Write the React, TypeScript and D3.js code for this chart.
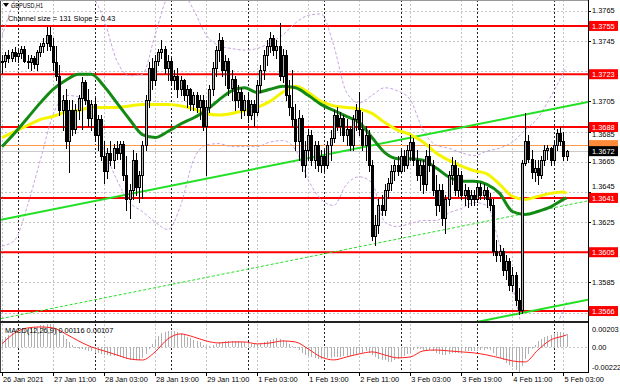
import React from "react";
import * as d3 from "d3";

// ---------- DATA (GBPUSD H1) ----------
const opens = [
  1.3731, 1.3732, 1.3736, 1.3734, 1.3738, 1.3735, 1.3737, 1.3740, 1.3732, 1.3731,
  1.3734, 1.3730, 1.3738, 1.3742, 1.3744, 1.3749, 1.3742, 1.3731, 1.3722, 1.3699,
  1.3706, 1.3679, 1.3699, 1.3687, 1.3699, 1.3707, 1.3718, 1.3706, 1.3694, 1.3703,
  1.3683, 1.3693, 1.3669, 1.3659, 1.3671, 1.3666, 1.3674, 1.3671, 1.3677, 1.3656,
  1.3640, 1.3646, 1.3666, 1.3648, 1.3656, 1.3676, 1.3706, 1.3727, 1.3719, 1.3732,
  1.3738, 1.3740, 1.3727, 1.3732, 1.3719, 1.3722, 1.3713, 1.3719, 1.3709, 1.3713,
  1.3703, 1.3709, 1.3701, 1.3706, 1.3689, 1.3701, 1.3713, 1.3727, 1.3739, 1.3746,
  1.3726, 1.3732, 1.3714, 1.3720, 1.3706, 1.3711, 1.3699, 1.3706, 1.3696, 1.3703,
  1.3698, 1.3716, 1.3726, 1.3736, 1.3742, 1.3747, 1.3739, 1.3742, 1.3722, 1.3736,
  1.3709, 1.3701, 1.3693, 1.3679, 1.3694, 1.3663, 1.3673, 1.3683, 1.3666, 1.3676,
  1.3663, 1.3669, 1.3663, 1.3676, 1.3681, 1.3696, 1.3689, 1.3694, 1.3683, 1.3687,
  1.3676, 1.3693, 1.3699, 1.3687, 1.3676, 1.3683, 1.3663, 1.3616, 1.3623, 1.3636,
  1.3633, 1.3646, 1.3651, 1.3659, 1.3663, 1.3659, 1.3669, 1.3663, 1.3673, 1.3678,
  1.3666, 1.3656, 1.3663, 1.3650, 1.3669, 1.3663, 1.3646, 1.3636, 1.3646, 1.3628,
  1.3640, 1.3656, 1.3663, 1.3646, 1.3656, 1.3643, 1.3646, 1.3640, 1.3643, 1.3640,
  1.3648, 1.3643, 1.3646, 1.3640, 1.3636, 1.3606, 1.3603, 1.3606, 1.3593, 1.3599,
  1.3583, 1.3590, 1.3573, 1.3567, 1.3664, 1.3679, 1.3667, 1.3658, 1.3661, 1.3656,
  1.3666, 1.3673, 1.3674, 1.3666, 1.3676, 1.3684, 1.3679, 1.3669,
];
const highs = [
  1.3736, 1.3738, 1.3739, 1.3740, 1.3741, 1.3739, 1.3742, 1.3742, 1.3736, 1.3736,
  1.3735, 1.3739, 1.3744, 1.3747, 1.3754, 1.3754, 1.3747, 1.3742, 1.3729, 1.3709,
  1.3713, 1.3706, 1.3706, 1.3703, 1.3709, 1.3721, 1.3719, 1.3713, 1.3706, 1.3707,
  1.3696, 1.3696, 1.3679, 1.3674, 1.3679, 1.3677, 1.3679, 1.3679, 1.3679, 1.3669,
  1.3650, 1.3673, 1.3671, 1.3659, 1.3679, 1.3709, 1.3731, 1.3734, 1.3736, 1.3740,
  1.3746, 1.3742, 1.3736, 1.3734, 1.3726, 1.3727, 1.3722, 1.3720, 1.3716, 1.3714,
  1.3711, 1.3711, 1.3709, 1.3709, 1.3706, 1.3716, 1.3731, 1.3742, 1.3750, 1.3748,
  1.3736, 1.3734, 1.3726, 1.3722, 1.3716, 1.3714, 1.3709, 1.3711, 1.3706, 1.3706,
  1.3719, 1.3729, 1.3739, 1.3746, 1.3751, 1.3749, 1.3746, 1.3757, 1.3740, 1.3739,
  1.3719, 1.3726, 1.3703, 1.3699, 1.3696, 1.3679, 1.3687, 1.3686, 1.3679, 1.3679,
  1.3673, 1.3673, 1.3679, 1.3686, 1.3699, 1.3701, 1.3698, 1.3696, 1.3693, 1.3689,
  1.3696, 1.3703, 1.3711, 1.3698, 1.3689, 1.3686, 1.3666, 1.3630, 1.3640, 1.3643,
  1.3650, 1.3654, 1.3663, 1.3666, 1.3669, 1.3673, 1.3673, 1.3676, 1.3683, 1.3681,
  1.3673, 1.3666, 1.3666, 1.3673, 1.3677, 1.3666, 1.3656, 1.3650, 1.3650, 1.3643,
  1.3659, 1.3668, 1.3666, 1.3661, 1.3659, 1.3650, 1.3648, 1.3646, 1.3646, 1.3651,
  1.3651, 1.3650, 1.3648, 1.3644, 1.3640, 1.3613, 1.3610, 1.3608, 1.3603, 1.3601,
  1.3595, 1.3592, 1.3581, 1.3666, 1.3697, 1.3683, 1.3673, 1.3666, 1.3666, 1.3669,
  1.3676, 1.3676, 1.3675, 1.3679, 1.3687, 1.3688, 1.3685, 1.3673,
];
const lows = [
  1.3724, 1.3728, 1.3731, 1.3732, 1.3732, 1.3731, 1.3734, 1.3731, 1.3727, 1.3726,
  1.3727, 1.3726, 1.3735, 1.3738, 1.3739, 1.3739, 1.3726, 1.3719, 1.3696, 1.3686,
  1.3674, 1.3658, 1.3683, 1.3684, 1.3693, 1.3687, 1.3703, 1.3689, 1.3686, 1.3679,
  1.3673, 1.3666, 1.3651, 1.3654, 1.3663, 1.3661, 1.3667, 1.3667, 1.3653, 1.3633,
  1.3628, 1.3640, 1.3643, 1.3638, 1.3641, 1.3673, 1.3701, 1.3713, 1.3716, 1.3729,
  1.3734, 1.3724, 1.3719, 1.3716, 1.3713, 1.3708, 1.3709, 1.3706, 1.3701, 1.3699,
  1.3699, 1.3698, 1.3693, 1.3686, 1.3656, 1.3698, 1.3709, 1.3722, 1.3732, 1.3722,
  1.3716, 1.3709, 1.3706, 1.3699, 1.3701, 1.3694, 1.3696, 1.3691, 1.3693, 1.3689,
  1.3696, 1.3711, 1.3720, 1.3729, 1.3738, 1.3736, 1.3734, 1.3719, 1.3718, 1.3706,
  1.3696, 1.3689, 1.3673, 1.3666, 1.3659, 1.3655, 1.3666, 1.3663, 1.3661, 1.3659,
  1.3658, 1.3659, 1.3661, 1.3666, 1.3678, 1.3686, 1.3683, 1.3679, 1.3676, 1.3673,
  1.3673, 1.3686, 1.3683, 1.3673, 1.3666, 1.3659, 1.3613, 1.3610, 1.3618, 1.3630,
  1.3630, 1.3641, 1.3646, 1.3653, 1.3656, 1.3658, 1.3659, 1.3661, 1.3666, 1.3663,
  1.3653, 1.3646, 1.3644, 1.3646, 1.3659, 1.3643, 1.3630, 1.3632, 1.3623, 1.3618,
  1.3636, 1.3650, 1.3643, 1.3642, 1.3640, 1.3636, 1.3635, 1.3636, 1.3636, 1.3638,
  1.3640, 1.3640, 1.3635, 1.3633, 1.3603, 1.3599, 1.3599, 1.3590, 1.3587, 1.3580,
  1.3579, 1.3570, 1.3564, 1.3565, 1.3663, 1.3665, 1.3654, 1.3652, 1.3650, 1.3654,
  1.3663, 1.3667, 1.3663, 1.3664, 1.3673, 1.3676, 1.3666, 1.3666,
];
const closes = [
  1.3732, 1.3736, 1.3734, 1.3738, 1.3735, 1.3737, 1.3740, 1.3732, 1.3731, 1.3734,
  1.3730, 1.3738, 1.3742, 1.3744, 1.3749, 1.3742, 1.3731, 1.3722, 1.3699, 1.3706,
  1.3679, 1.3699, 1.3687, 1.3699, 1.3707, 1.3718, 1.3706, 1.3694, 1.3703, 1.3683,
  1.3693, 1.3669, 1.3659, 1.3671, 1.3666, 1.3674, 1.3671, 1.3677, 1.3656, 1.3640,
  1.3646, 1.3666, 1.3648, 1.3656, 1.3676, 1.3706, 1.3727, 1.3719, 1.3732, 1.3738,
  1.3740, 1.3727, 1.3732, 1.3719, 1.3722, 1.3713, 1.3719, 1.3709, 1.3713, 1.3703,
  1.3709, 1.3701, 1.3706, 1.3689, 1.3701, 1.3713, 1.3727, 1.3739, 1.3746, 1.3726,
  1.3732, 1.3714, 1.3720, 1.3706, 1.3711, 1.3699, 1.3706, 1.3696, 1.3703, 1.3698,
  1.3716, 1.3726, 1.3736, 1.3742, 1.3747, 1.3739, 1.3742, 1.3722, 1.3736, 1.3709,
  1.3701, 1.3693, 1.3679, 1.3694, 1.3663, 1.3673, 1.3683, 1.3666, 1.3676, 1.3663,
  1.3669, 1.3663, 1.3676, 1.3681, 1.3696, 1.3689, 1.3694, 1.3683, 1.3687, 1.3676,
  1.3693, 1.3699, 1.3687, 1.3676, 1.3683, 1.3663, 1.3616, 1.3623, 1.3636, 1.3633,
  1.3646, 1.3651, 1.3659, 1.3663, 1.3659, 1.3669, 1.3663, 1.3673, 1.3678, 1.3666,
  1.3656, 1.3663, 1.3650, 1.3669, 1.3663, 1.3646, 1.3636, 1.3646, 1.3628, 1.3640,
  1.3656, 1.3663, 1.3646, 1.3656, 1.3643, 1.3646, 1.3640, 1.3643, 1.3640, 1.3648,
  1.3643, 1.3646, 1.3640, 1.3636, 1.3606, 1.3603, 1.3606, 1.3593, 1.3599, 1.3583,
  1.3590, 1.3573, 1.3567, 1.3664, 1.3679, 1.3667, 1.3658, 1.3661, 1.3656, 1.3666,
  1.3673, 1.3674, 1.3666, 1.3676, 1.3684, 1.3679, 1.3669, 1.3672,
];

// indicator samples, taken every 4 bars (bar indices in maK)
const maK = [
  0, 4, 8, 12, 16, 20, 24, 28, 32, 36, 40, 44, 48, 52, 56, 60, 64, 68, 72, 76, 80, 84, 88,
  92, 96, 100, 104, 108, 112, 116, 120, 124, 128, 132, 136, 140, 144, 148, 152, 156, 160,
  164, 168, 172, 176, 177,
];
const maGreen = [
  1.3675, 1.3684, 1.3694, 1.3704, 1.3713, 1.3719, 1.3723, 1.3723, 1.3715, 1.3704, 1.3693,
  1.3683, 1.3681, 1.3685, 1.3690, 1.3694, 1.3699, 1.3706, 1.3712, 1.3714, 1.3711, 1.3713,
  1.3715, 1.3714, 1.3709, 1.3703, 1.3699, 1.3695, 1.3691, 1.3681, 1.3671, 1.3667, 1.3667,
  1.3666, 1.3661, 1.3655, 1.3652, 1.3652, 1.3650, 1.3644, 1.3632, 1.3630, 1.3632, 1.3635,
  1.3640, 1.3641,
];
const maYellow = [
  1.3681, 1.3685, 1.3689, 1.3693, 1.3695, 1.3698, 1.3699, 1.3701, 1.3701, 1.3701, 1.3702,
  1.3703, 1.3703, 1.3703, 1.3702, 1.3700, 1.3697, 1.3696, 1.3697, 1.3699, 1.3701, 1.3705,
  1.3711, 1.3715, 1.3711, 1.3705, 1.3702, 1.3701, 1.3700, 1.3697, 1.3691, 1.3686, 1.3683,
  1.3678, 1.3671, 1.3666, 1.3662, 1.3659, 1.3657, 1.3650, 1.3642, 1.3640, 1.3642, 1.3644,
  1.3645, 1.3644,
];
const bandUpper = [
  1.3748, 1.3772, 1.3784, 1.3788, 1.3789, 1.3787, 1.3783, 1.3776, 1.3759, 1.3732, 1.3722,
  1.3723, 1.3749, 1.3774, 1.3778, 1.3766, 1.3749, 1.3742, 1.3740, 1.3739, 1.3740, 1.3744,
  1.3749, 1.3757, 1.3762, 1.3763, 1.3742, 1.3711, 1.3704, 1.3709, 1.3714, 1.3712, 1.3706,
  1.3686, 1.3676, 1.3674, 1.3671, 1.3669, 1.3672, 1.3674, 1.3678, 1.3686, 1.3694, 1.3708,
  1.3724, 1.3728,
];
const bandLower = [
  1.3609, 1.3613, 1.3636, 1.3666, 1.3696, 1.3709, 1.3708, 1.3698, 1.3673, 1.3653, 1.3638,
  1.3632, 1.3625, 1.3620, 1.3636, 1.3666, 1.3676, 1.3677, 1.3675, 1.3675, 1.3675, 1.3678,
  1.3679, 1.3673, 1.3653, 1.3640, 1.3636, 1.3650, 1.3655, 1.3651, 1.3625, 1.3622, 1.3624,
  1.3626, 1.3626, 1.3631, 1.3634, 1.3638, 1.3636, 1.3610, 1.3583, 1.3547, 1.3534, 1.3547,
  1.3567, 1.3572,
];
const macdHist = [
  0.0007, 0.0009, 0.0011, 0.0012, 0.0014, 0.0015, 0.0015, 0.0016, 0.0016, 0.0017,
  0.0018, 0.0018, 0.0019, 0.0019, 0.002, 0.00203, 0.0019, 0.0017, 0.0014, 0.0011,
  0.0007, 0.0004, 0.0002, -0.0001, -0.0002, -0.0002, -0.0003, -0.0004, -0.0004, -0.0005,
  -0.0005, -0.0006, -0.0007, -0.0007, -0.0008, -0.0008, -0.0008, -0.0009, -0.001, -0.0011,
  -0.0012, -0.0012, -0.0012, -0.0012, -0.001, -0.0006, -0.0002, 0.0003, 0.0007, 0.001,
  0.0012, 0.0013, 0.0014, 0.0014, 0.0014, 0.0013, 0.0012, 0.0011, 0.0009, 0.0008,
  0.0006, 0.0005, 0.0004, 0.0002, 0.0001, 0.0001, 0.0002, 0.0003, 0.0004, 0.0004,
  0.0005, 0.0005, 0.0005, 0.0005, 0.0005, 0.0004, 0.0004, 0.0004, 0.0003, 0.0003,
  0.0003, 0.0003, 0.0004, 0.0005, 0.0006, 0.0007, 0.0008, 0.0007, 0.0006, 0.0005,
  0.0003, 0.0001, -0.0001, -0.0003, -0.0005, -0.0007, -0.0008, -0.0009, -0.001, -0.0011,
  -0.0011, -0.0011, -0.001, -0.001, -0.0009, -0.0009, -0.0009, -0.0008, -0.0008, -0.0008,
  -0.0007, -0.0006, -0.0005, -0.0005, -0.0004, -0.0005, -0.0007, -0.0009, -0.0011, -0.0012,
  -0.0012, -0.0013, -0.0013, -0.0012, -0.0011, -0.001, -0.0008, -0.0006, -0.0005, -0.0003,
  -0.0002, -0.0002, -0.0003, -0.0003, -0.0003, -0.0004, -0.0005, -0.0006, -0.0007, -0.0007,
  -0.0006, -0.0005, -0.0005, -0.0005, -0.0005, -0.0004, -0.0004, -0.0004, -0.0004, -0.0004,
  -0.0003, -0.0003, -0.0002, -0.0003, -0.0005, -0.0008, -0.001, -0.0012, -0.0014, -0.0016,
  -0.0018, -0.002, -0.00222, -0.0017, -0.0011, -0.0006, -0.0002, 0.0002, 0.0005, 0.0007,
  0.0009, 0.001, 0.0011, 0.0012, 0.0013, 0.0013, 0.0012, 0.00116,
];
const macdSignal = [
  0.00027, 0.00124, 0.00168, 0.00177, 0.00168, 0.00115, 0.00053, 0.0, -0.00035, -0.00071,
  -0.00106, -0.00116, -0.00044, 0.00071, 0.00115, 0.00089, 0.00053, 0.00035, 0.00044,
  0.00044, 0.00027, 0.00035, 0.00053, 0.00044, -0.00018, -0.00089, -0.00115, -0.00089,
  -0.00062, -0.00044, -0.00071, -0.00097, -0.00089, -0.00035, -0.00027, -0.00035, -0.00044,
  -0.00053, -0.00071, -0.00097, -0.00124, -0.00133, -0.00027, 0.00062, 0.00097, 0.00107,
];

const levels = [1.3755, 1.3723, 1.3688, 1.3641, 1.3605, 1.3566];
const askPrice = 1.3676;
const bidPrice = 1.3672;
const priceTicks = [1.3765, 1.3745, 1.3725, 1.3705, 1.3685, 1.3665, 1.3645, 1.3625, 1.3605, 1.3585, 1.3565];
const macdTickLabels = ["0.00203", "0.00", "-0.00222"];
const macdTickValues = [0.00203, 0, -0.00222];
const timeLabels = [
  "26 Jan 2021", "27 Jan 11:00", "28 Jan 03:00", "28 Jan 19:00", "29 Jan 11:00", "1 Feb 03:00",
  "1 Feb 19:00", "2 Feb 11:00", "3 Feb 03:00", "3 Feb 19:00", "4 Feb 11:00", "5 Feb 03:00",
];
const timeLabelBars = [0, 16, 32, 48, 64, 80, 96, 112, 128, 144, 160, 176];
const daySeparatorBars = [5, 29, 53, 77, 101, 125, 149, 173];
const channelK = [0, 177];
const channelTop = [1.36266, 1.37017];
const channelSize = 0.0131;

// ---------- LAYOUT ----------
const W = 620, H = 388;
const PL = 1, PR = 588, PT = 0, PB = 321;
const MT = 323, MB = 372;
const FONT = "'Liberation Sans', Arial, sans-serif";
const BOX_H = 10;

export default function App() {
  const n = closes.length;
  const x = d3.scaleLinear().domain([0, n - 1]).range([2, 566.6]);
  const y = d3.scaleLinear().domain([1.35594, 1.37722]).range([PB, PT]);
  const ym = d3.scaleLinear().domain([-0.00222, 0.00203]).range([MB, MT + 1]);

  const sampled = (vals: number[], sc: (v: number) => number) =>
    d3.line<number>().x((_, i) => x(maK[i])).y((v) => sc(v)).curve(d3.curveMonotoneX)(vals) || "";

  const chan = (off: number) => {
    const slope = (channelTop[1] - channelTop[0]) / (channelK[1] - channelK[0]);
    const k0 = x.invert(PL), k1 = x.invert(PR);
    const p0 = channelTop[0] + slope * (k0 - channelK[0]) - off;
    const p1 = channelTop[0] + slope * (k1 - channelK[0]) - off;
    return { x1: PL, y1: y(p0), x2: PR, y2: y(p1) };
  };
  const cTop = chan(0), cMid = chan(channelSize / 2), cBot = chan(channelSize);

  const txt = { fontFamily: FONT, fontSize: 7.4, fill: "#000" } as const;

  // boxes on the price scale (levels + bid); tick labels that would sit under one are moved or dropped
  const boxYs = [...levels.map((p) => y(p)), y(bidPrice)];
  const tickPlacements = priceTicks
    .map((p) => {
      const ty = y(p);
      let best: number | null = null;
      boxYs.forEach((by) => {
        if (best === null || Math.abs(by - ty) < Math.abs(best - ty)) best = by;
      });
      const d = best === null ? 99 : ty - (best as number);
      if (Math.abs(d) < 3.5) return null;
      if (Math.abs(d) < 10) {
        const by = best as number;
        return { p, ty: d > 0 ? by + BOX_H / 2 + 5.2 : by - BOX_H / 2 - 3.8 };
      }
      return { p, ty: ty + 2.6 };
    })
    .filter((d) => d !== null) as { p: number; ty: number }[];

  return (
    <svg width={W} height={H} style={{ position: "absolute", left: 0, top: 0, background: "#fff" }}>
      <defs>
        <clipPath id="mainClip"><rect x={PL} y={PT} width={PR - PL} height={PB - PT} /></clipPath>
        <clipPath id="macdClip"><rect x={PL} y={MT} width={PR - PL} height={MB - MT} /></clipPath>
      </defs>
      <rect x={0} y={0} width={W} height={H} fill="#fff" />

      {/* grid */}
      <g stroke="#c4c4c4" strokeWidth={1} strokeDasharray="2,2" shapeRendering="crispEdges">
        {priceTicks.map((p, i) => (
          <line key={"hg" + i} x1={PL} x2={PR} y1={Math.round(y(p)) + 0.5} y2={Math.round(y(p)) + 0.5} />
        ))}
        {timeLabelBars.map((k, i) => (
          <line key={"vg" + i} x1={Math.round(x(k)) + 0.5} x2={Math.round(x(k)) + 0.5} y1={PT} y2={MB} />
        ))}
        <line x1={PL} x2={PR} y1={Math.round(ym(0)) + 0.5} y2={Math.round(ym(0)) + 0.5} />
      </g>
      <g stroke="#222" strokeWidth={1} strokeDasharray="2,2" shapeRendering="crispEdges">
        {daySeparatorBars.map((k, i) => (
          <line key={"ds" + i} x1={Math.round(x(k)) + 0.5} x2={Math.round(x(k)) + 0.5} y1={PT} y2={MB} />
        ))}
      </g>

      <g clipPath="url(#mainClip)">
        {/* horizontal levels */}
        {levels.map((p, i) => (
          <line key={"lv" + i} x1={PL} x2={PR} y1={y(p)} y2={y(p)} stroke="#ff0000" strokeWidth={2} />
        ))}
        <line x1={PL} x2={PR} y1={Math.round(y(askPrice)) + 0.5} y2={Math.round(y(askPrice)) + 0.5} stroke="#ff9a4a" strokeWidth={1} />
        <line x1={PL} x2={PR} y1={Math.round(y(bidPrice)) + 0.5} y2={Math.round(y(bidPrice)) + 0.5} stroke="#c8c8c8" strokeWidth={1} />

        {/* bands */}
        <path d={sampled(bandUpper, y)} fill="none" stroke="#c7a3e0" strokeWidth={1} strokeDasharray="3,2" />
        <path d={sampled(bandLower, y)} fill="none" stroke="#c7a3e0" strokeWidth={1} strokeDasharray="3,2" />

        {/* channel */}
        <line {...cTop} stroke="#22e022" strokeWidth={2} />
        <line {...cMid} stroke="#22e022" strokeWidth={1} strokeDasharray="3,2" />
        <line {...cBot} stroke="#22e022" strokeWidth={2} />

        {/* moving averages */}
        <path d={sampled(maYellow, y)} fill="none" stroke="#f5f500" strokeWidth={3} />
        <path d={sampled(maGreen, y)} fill="none" stroke="#138a13" strokeWidth={3} />

        {/* candles */}
        {d3.range(n).map((k) => {
          const cx = Math.round(x(k));
          const o = opens[k], c = closes[k];
          const top = Math.round(y(Math.max(o, c)));
          const bot = Math.round(y(Math.min(o, c)));
          const bull = c > o;
          return (
            <g key={"c" + k} shapeRendering="crispEdges">
              <line x1={cx + 0.5} x2={cx + 0.5} y1={Math.round(y(highs[k]))} y2={Math.round(y(lows[k])) + 1} stroke="#000" strokeWidth={1} />
              {bull ? (
                <rect x={cx - 0.5} y={top + 0.5} width={2} height={Math.max(1, bot - top)} fill="#b2b2b2" stroke="#000" strokeWidth={1} />
              ) : (
                <rect x={cx - 1} y={top} width={3} height={Math.max(1, bot - top + 1)} fill="#000" />
              )}
            </g>
          );
        })}
      </g>

      {/* MACD */}
      <g clipPath="url(#macdClip)">
        {macdHist.map((v, k) => (
          <line key={"h" + k} x1={Math.round(x(k)) + 0.5} x2={Math.round(x(k)) + 0.5} y1={ym(0)} y2={ym(v)} stroke="#b0b0b0" strokeWidth={1} shapeRendering="crispEdges" />
        ))}
        <path d={sampled(macdSignal, ym)} fill="none" stroke="#ff2020" strokeWidth={1} />
      </g>

      {/* frames */}
      <g fill="none" strokeWidth={1} shapeRendering="crispEdges">
        <line x1={0.5} x2={0.5} y1={0} y2={MB} stroke="#444" />
        <line x1={PR + 0.5} x2={PR + 0.5} y1={0} y2={MB + 1} stroke="#000" />
        <line x1={0} x2={PR} y1={0.5} y2={0.5} stroke="#999" />
        <line x1={0} x2={PR} y1={PB + 0.5} y2={PB + 0.5} stroke="#222" />
        <line x1={0} x2={PR} y1={MT - 0.5} y2={MT - 0.5} stroke="#222" />
        <line x1={0} x2={PR + 1} y1={MB + 0.5} y2={MB + 0.5} stroke="#000" />
      </g>

      {/* price axis */}
      <g shapeRendering="crispEdges" stroke="#000">
        {priceTicks.map((p, i) => (
          <line key={"pt" + i} x1={PR} x2={PR + 3} y1={Math.round(y(p)) + 0.5} y2={Math.round(y(p)) + 0.5} />
        ))}
        {timeLabelBars.map((k, i) => (
          <line key={"tt" + i} x1={Math.round(x(k)) + 0.5} x2={Math.round(x(k)) + 0.5} y1={MB} y2={MB + 4} />
        ))}
      </g>
      {tickPlacements.map((t, i) => (
        <text key={"ptl" + i} x={PR + 4} y={t.ty} {...txt}>{t.p.toFixed(4)}</text>
      ))}
      {/* ask box peeks out above the bid box */}
      <rect x={PR + 1} y={y(askPrice) - BOX_H / 2} width={29} height={BOX_H} fill="#ff8a3a" />
      {levels.map((p, i) => (
        <g key={"lvl" + i}>
          <rect x={PR + 1} y={y(p) - BOX_H / 2} width={29} height={BOX_H} fill="#ff0000" />
          <text x={PR + 4} y={y(p) + 2.6} {...txt} fill="#fff">{p.toFixed(4)}</text>
        </g>
      ))}
      <rect x={PR + 1} y={y(bidPrice) - BOX_H / 2} width={29} height={BOX_H} fill="#000" />
      <text x={PR + 4} y={y(bidPrice) + 2.6} {...txt} fill="#fff">{bidPrice.toFixed(4)}</text>

      {/* macd axis */}
      {macdTickValues.map((v, i) => {
        const yy = i === 0 ? ym(v) + 5 : i === 2 ? ym(v) - 5 : ym(v);
        return (
          <text key={"ml" + i} x={PR + 4} y={yy + 2.6} {...txt}>{macdTickLabels[i]}</text>
        );
      })}

      {/* time axis */}
      {timeLabels.map((t, i) => (
        <text key={"tl" + i} x={x(timeLabelBars[i]) + 1} y={382} {...txt}>{t}</text>
      ))}

      {/* titles */}
      <path d="M3,3 L9,3 L6,7 Z" fill="#000" />
      <text x={11} y={8} {...txt} textLength={32} lengthAdjust="spacingAndGlyphs">GBPUSD,H1</text>
      <text x={8} y={21} {...txt}>Channel size = 131 Slope = 0.43</text>
      <text x={5} y={333} {...txt}>MACD(12,26,9) 0.00116 0.00107</text>
    </svg>
  );
}
